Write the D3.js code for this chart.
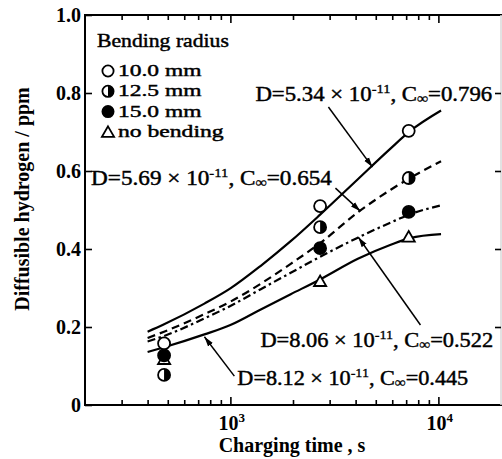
<!DOCTYPE html>
<html><head><meta charset="utf-8">
<script src="https://cdn.jsdelivr.net/npm/d3@7"></script>
<style>
body{margin:0;background:#fff;}
text{font-family:"Liberation Serif","Times New Roman",serif;fill:#000;}
</style></head><body>
<svg id="chart" width="502" height="459"></svg>
<script>
// ---- data ----
const markTimes = [480, 2700, 7200];
const r100 = [0.158, 0.510, 0.703];
const r125 = [0.077, 0.456, 0.582];
const r150 = [0.127, 0.402, 0.495];
const rNone = [0.118, 0.318, 0.432];

const fitTimes = [400, 480, 750, 1000, 1400, 1950, 2700, 4100, 5900, 7300, 10300];
const fit100  = [0.188, 0.207, 0.260, 0.299, 0.357, 0.420, 0.488, 0.579, 0.658, 0.702, 0.755];
const fit125  = [0.172, 0.188, 0.233, 0.265, 0.311, 0.362, 0.415, 0.494, 0.552, 0.582, 0.625];
const fit150  = [0.163, 0.177, 0.222, 0.254, 0.297, 0.339, 0.380, 0.429, 0.468, 0.489, 0.512];
const fitNone = [0.136, 0.148, 0.181, 0.205, 0.245, 0.284, 0.322, 0.375, 0.411, 0.428, 0.438];

const yTicks = [0, 0.2, 0.4, 0.6, 0.8, 1.0];
const yTickLabels = ["0", "0.2", "0.4", "0.6", "0.8", "1.0"];
const xMajor = [1000, 10000];
const xMajorExp = ["3", "4"];
const xMinor = [300, 400, 500, 600, 700, 800, 900, 2000, 3000, 4000, 5000, 6000, 7000, 8000, 9000];

const legendTitle = "Bending radius";
const legendLabels = ["10.0 mm", "12.5 mm", "15.0 mm", "no bending"];

const fitD = ["5.34", "5.69", "8.06", "8.12"];
const fitC = ["0.796", "0.654", "0.522", "0.445"];
// label anchor (time, value) and arrow (from -> to) in data space
const labelAt = [[1319, 0.779], [214, 0.564], [1394, 0.149], [1080, 0.051]];
const arrowFrom = [[2960, 0.764], [3200, 0.556], [8200, 0.205], [1045, 0.074]];
const arrowTo   = [[4820, 0.610], [4217, 0.497], [4123, 0.430], [750, 0.175]];

// ---- drawing ----
const svg = d3.select("#chart");
const x = d3.scaleLog().domain([200, 20000]).range([85, 501]);
const y = d3.scaleLinear().domain([0, 1]).range([405, 15]);
const FS = 20;

// place a text group at (px,py) and stretch it horizontally to a target width
function placeText(px, py, width, size, build) {
  const g = svg.append("g");
  const t = g.append("text").attr("x", 0).attr("y", 0)
    .attr("font-size", size).attr("stroke", "#000").attr("stroke-width", 0.45);
  build(t);
  const bw = t.node().getBBox().width;
  g.attr("transform", `translate(${px},${py}) scale(${width / bw},1)`);
  return g;
}

svg.append("defs").append("marker")
  .attr("id", "ah").attr("markerUnits", "userSpaceOnUse")
  .attr("viewBox", "0 -4 10 8").attr("refX", 10).attr("refY", 0)
  .attr("markerWidth", 10).attr("markerHeight", 8).attr("orient", "auto")
  .append("path").attr("d", "M0,-3L10,0L0,3Z").attr("fill", "#000");

// frame
const frame = svg.append("g").attr("stroke", "#000").attr("stroke-width", 2);
frame.append("line").attr("x1", 85).attr("x2", 85).attr("y1", 14).attr("y2", 406);
frame.append("line").attr("x1", 84).attr("x2", 502).attr("y1", 405).attr("y2", 405);
frame.append("line").attr("x1", 84).attr("x2", 502).attr("y1", 15).attr("y2", 15);
svg.append("line").attr("x1", 501).attr("x2", 501).attr("y1", 15).attr("y2", 405)
  .attr("stroke", "#d8d8d8").attr("stroke-width", 1.5);

function styleAxis(g) {
  g.select(".domain").remove();
  g.selectAll(".tick line").attr("stroke", "#000").attr("stroke-width", 1.6);
}
// bottom
svg.append("g").attr("transform", "translate(0,405)")
  .call(d3.axisBottom(x).tickValues(xMinor).tickSize(-5).tickFormat(""))
  .call(styleAxis);
svg.append("g").attr("transform", "translate(0,405)")
  .call(d3.axisBottom(x).tickValues(xMajor).tickSize(-8).tickFormat(""))
  .call(styleAxis);
// top
svg.append("g").attr("transform", "translate(0,15)")
  .call(d3.axisTop(x).tickValues(xMinor).tickSize(-5).tickFormat(""))
  .call(styleAxis);
svg.append("g").attr("transform", "translate(0,15)")
  .call(d3.axisTop(x).tickValues(xMajor).tickSize(-8).tickFormat(""))
  .call(styleAxis);
// left
const yl = svg.append("g").attr("transform", "translate(85,0)")
  .call(d3.axisLeft(y).tickValues(yTicks).tickSize(-7).tickPadding(4)
        .tickFormat((d, i) => yTickLabels[i]))
  .call(styleAxis);
yl.selectAll(".tick text").attr("font-size", FS).attr("font-weight", "bold")
  .attr("font-family", "Liberation Serif").attr("fill", "#000");
// right
svg.append("g").attr("transform", "translate(501,0)")
  .call(d3.axisRight(y).tickValues(yTicks.slice(1, 5)).tickSize(-6).tickFormat(""))
  .call(styleAxis);

// x labels
xMajor.forEach((v, i) => {
  const t = svg.append("text").attr("x", x(v) - 12).attr("y", 430)
    .attr("font-size", FS).attr("font-weight", "bold");
  t.append("tspan").text("10");
  t.append("tspan").attr("dy", -8).attr("font-size", 13).text(xMajorExp[i]);
});

// axis titles
svg.append("text").attr("x", 292).attr("y", 452).attr("text-anchor", "middle")
  .attr("font-size", FS).attr("font-weight", "bold").text("Charging time , s");
svg.append("text").attr("transform", "translate(29,199) rotate(-90)")
  .attr("text-anchor", "middle").attr("font-size", FS).attr("font-weight", "bold")
  .text("Diffusible hydrogen / ppm");

// fitted curves
const line = d3.line().x(d => x(d[0])).y(d => y(d[1])).curve(d3.curveMonotoneX);
const curves = [
  { v: fit100, dash: null },
  { v: fit125, dash: "8,5" },
  { v: fit150, dash: "8,3.5,2.5,3.5" },
  { v: fitNone, dash: null }
];
curves.forEach(c => {
  svg.append("path").datum(fitTimes.map((t, i) => [t, c.v[i]]))
    .attr("d", line).attr("fill", "none").attr("stroke", "#000")
    .attr("stroke-width", 2.2).attr("stroke-dasharray", c.dash);
});

// markers
const R = 6;
function drawMarker(g, kind, cx, cy, r) {
  const m = g.append("g").attr("transform", `translate(${cx},${cy})`);
  if (kind === 0) {
    m.append("circle").attr("r", r).attr("fill", "#fff").attr("stroke", "#000").attr("stroke-width", 1.8);
  } else if (kind === 1) {
    m.append("circle").attr("r", r).attr("fill", "#fff").attr("stroke", "#000").attr("stroke-width", 1.8);
    m.append("path").attr("d", `M0,${-r}A${r},${r} 0 0 1 0,${r}Z`).attr("fill", "#000");
  } else if (kind === 2) {
    m.append("circle").attr("r", r).attr("fill", "#000").attr("stroke", "#000").attr("stroke-width", 1.8);
  } else {
    m.append("path").attr("d", d3.symbol(d3.symbolTriangle, 64)())
      .attr("transform", "translate(0,1.5)")
      .attr("fill", "#fff").attr("stroke", "#000").attr("stroke-width", 1.8);
  }
}
const series = [r100, r125, rNone, r150];
const kinds = [0, 1, 3, 2];
series.forEach((s, k) => {
  s.forEach((v, i) => drawMarker(svg, kinds[k], x(markTimes[i]), y(v), R));
});

// legend
placeText(97, 47, 132, 19, t => t.text(legendTitle));
const legendWidths = [84, 84, 84, 106];
legendLabels.forEach((lab, i) => {
  const yy = 71 + i * 20.3;
  drawMarker(svg, i, 108, yy, 5.6);
  placeText(118, yy + 5, legendWidths[i], 17.5, t => t.text(lab));
});

// annotations
const annWidths = [237, 241, 233, 231];
fitD.forEach((D, i) => {
  placeText(x(labelAt[i][0]), y(labelAt[i][1]), annWidths[i], 20.5, t => {
    t.append("tspan").text(`D=${D} × 10`);
    t.append("tspan").attr("dy", -8).attr("font-size", 13).attr("stroke-width", 0.3).text("-11");
    t.append("tspan").attr("dy", 8).text(", C");
    t.append("tspan").attr("dy", 2).attr("font-size", 14).attr("stroke-width", 0.3).text("∞");
    t.append("tspan").attr("dy", -2).text(`=${fitC[i]}`);
  });
  svg.append("line")
    .attr("x1", x(arrowFrom[i][0])).attr("y1", y(arrowFrom[i][1]))
    .attr("x2", x(arrowTo[i][0])).attr("y2", y(arrowTo[i][1]))
    .attr("stroke", "#000").attr("stroke-width", 1.5).attr("marker-end", "url(#ah)");
});
</script>
</body></html>
